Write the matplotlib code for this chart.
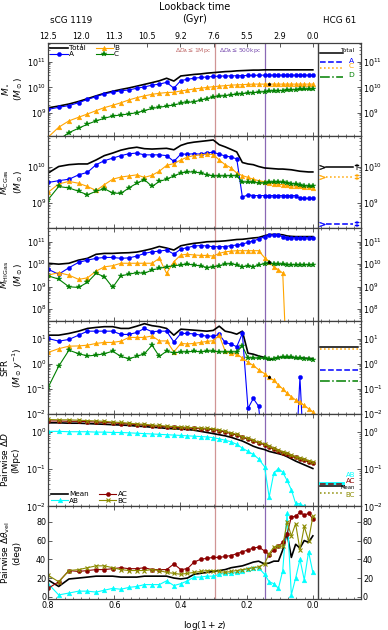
import numpy as np
import matplotlib
matplotlib.use('Agg')
import matplotlib.pyplot as plt
from matplotlib.ticker import FixedLocator, MultipleLocator, LogLocator, NullFormatter

nan = np.nan

# snapshot positions, log(1+z)
x = [0.800, 0.768, 0.737, 0.708, 0.681, 0.655, 0.630, 0.605, 0.580, 0.556,
     0.532, 0.509, 0.486, 0.464, 0.442, 0.420, 0.399, 0.379, 0.359, 0.339,
     0.320, 0.301, 0.283, 0.265, 0.247, 0.230, 0.213, 0.196, 0.180, 0.164,
     0.146, 0.132, 0.118, 0.104, 0.091, 0.078, 0.065, 0.052, 0.039, 0.026,
     0.013, 0.000]
marked_snap = 31   # snapshot drawn with a black dot on the B curve

lookback_pos = [0.8, 0.7, 0.6, 0.5, 0.4, 0.3, 0.2, 0.1, 0.0]
lookback_labels = ['12.5', '12.0', '11.3', '10.5', '9.2', '7.6', '5.5', '2.9', '0.0']

# log10 stellar mass
mstar_total = [9.20, 9.27, 9.35, 9.45, 9.56, 9.67, 9.77, 9.85, 9.92, 9.98,
               10.05, 10.12, 10.19, 10.26, 10.36, 10.25, 10.45, 10.48, 10.51, 10.53,
               10.56, 10.58, 10.60, 10.62, 10.63, 10.65, 10.66, 10.67, 10.68, 10.68,
               10.69, 10.69, 10.69, 10.69, 10.69, 10.69, 10.69, 10.69, 10.69, 10.69,
               10.69, 10.69]
mstar_a = [9.14, 9.22, 9.29, 9.40, 9.53, 9.64, 9.75, 9.81, 9.87, 9.90,
           9.97, 10.02, 10.09, 10.13, 10.20, 9.97, 10.27, 10.32, 10.36, 10.39,
           10.41, 10.43, 10.44, 10.45, 10.45, 10.46, 10.46, 10.47, 10.47, 10.48,
           10.48, 10.48, 10.48, 10.48, 10.48, 10.48, 10.48, 10.48, 10.48, 10.48,
           10.48, 10.48]
mstar_b = [8.05, 8.44, 8.69, 8.83, 8.96, 9.09, 9.21, 9.30, 9.40, 9.51,
           9.60, 9.67, 9.73, 9.77, 9.80, 9.81, 9.86, 9.90, 9.94, 9.97,
           10.00, 10.03, 10.05, 10.07, 10.09, 10.10, 10.11, 10.12, 10.13, 10.13,
           10.13, 10.13, 10.13, 10.13, 10.13, 10.13, 10.13, 10.13, 10.13, 10.13,
           10.13, 10.13]
mstar_c = [7.60, 7.95, 8.23, 8.40, 8.56, 8.69, 8.79, 8.88, 8.92, 8.96,
           9.01, 9.09, 9.18, 9.22, 9.27, 9.31, 9.38, 9.41, 9.44, 9.50,
           9.56, 9.62, 9.65, 9.68, 9.71, 9.73, 9.76, 9.78, 9.80, 9.81,
           9.83, 9.85, 9.86, 9.87, 9.88, 9.89, 9.90, 9.91, 9.92, 9.92,
           9.93, 9.93]

# log10 cold gas mass
cgas_total = [9.82, 10.00, 10.05, 10.07, 10.07, 10.18, 10.30, 10.37, 10.45, 10.50,
              10.53, 10.49, 10.48, 10.49, 10.50, 10.46, 10.58, 10.64, 10.67, 10.69,
              10.71, 10.73, 10.60, 10.54, 10.47, 10.40, 10.11, 10.07, 10.05, 10.00,
              9.96, 9.95, 9.94, 9.93, 9.93, 9.92, 9.91, 9.89, 9.87, 9.86,
              9.85, 9.85]
cgas_a = [9.56, 9.61, 9.65, 9.77, 9.84, 10.05, 10.16, 10.23, 10.30, 10.35,
          10.37, 10.32, 10.32, 10.32, 10.30, 10.14, 10.34, 10.34, 10.35, 10.34,
          10.38, 10.39, 10.34, 10.29, 10.26, 10.21, 9.16, 9.22, 9.20, 9.20,
          9.20, 9.20, 9.20, 9.20, 9.20, 9.20, 9.20, 9.20, 9.12, 9.12,
          9.12, 9.12]
cgas_b = [9.29, 9.52, 9.59, 9.54, 9.45, 9.34, 9.50, 9.65, 9.71, 9.74,
          9.77, 9.70, 9.76, 9.87, 10.03, 10.08, 10.18, 10.26, 10.30, 10.32,
          10.34, 10.33, 10.18, 10.05, 9.96, 9.82, 9.75, 9.70, 9.65, 9.61,
          9.58, 9.55, 9.53, 9.51, 9.50, 9.48, 9.47, 9.46, 9.45, 9.44,
          9.43, 9.42]
cgas_c = [9.09, 9.45, 9.41, 9.32, 9.22, 9.32, 9.39, 9.27, 9.26, 9.41,
          9.54, 9.64, 9.45, 9.59, 9.65, 9.74, 9.82, 9.85, 9.85, 9.82,
          9.77, 9.74, 9.74, 9.74, 9.75, 9.74, 9.57, 9.57, 9.56, 9.55,
          9.54, 9.56, 9.57, 9.57, 9.56, 9.55, 9.53, 9.51, 9.49, 9.47,
          9.46, 9.45]

# log10 HI gas mass
hi_total = [10.04, 10.00, 10.04, 10.18, 10.26, 10.44, 10.48, 10.48, 10.50, 10.51,
            10.54, 10.61, 10.69, 10.79, 10.72, 10.63, 10.82, 10.88, 10.93, 10.96,
            11.00, 11.01, 11.02, 11.04, 11.07, 11.10, 11.11, 11.14, 11.17, 11.19,
            11.27, 11.32, 11.33, 11.33, 11.31, 11.26, 11.24, 11.23, 11.23, 11.23,
            11.23, 11.23]
hi_a = [9.77, 9.55, 9.84, 10.08, 10.18, 10.26, 10.30, 10.30, 10.26, 10.28,
        10.36, 10.48, 10.55, 10.58, 10.63, 10.45, 10.67, 10.74, 10.81, 10.83,
        10.81, 10.78, 10.78, 10.78, 10.83, 10.85, 10.90, 10.97, 11.04, 11.12,
        11.22, 11.30, 11.30, 11.30, 11.22, 11.18, 11.18, 11.18, 11.18, 11.18,
        11.18, 11.18]
hi_b = [9.51, 9.62, 9.51, 9.32, 9.39, 9.69, 9.88, 9.93, 10.04, 10.04,
        10.04, 10.04, 10.04, 10.26, 9.59, 10.11, 10.41, 10.44, 10.41, 10.39,
        10.39, 10.36, 10.48, 10.55, 10.58, 10.60, 10.60, 10.60, 10.60, 10.60,
        10.29, 10.11, 9.88, 9.75, 9.60, 5.00, nan, nan, nan, nan,
        nan, nan]
hi_c = [9.48, 9.33, 8.99, 8.96, 9.19, 9.59, 9.44, 8.96, 9.48, 9.55,
        9.62, 9.59, 9.74, 9.81, 9.88, 9.93, 9.96, 10.00, 9.96, 9.92,
        9.85, 9.88, 9.93, 10.00, 10.02, 9.96, 9.88, 9.93, 9.88, 9.96,
        10.02, 10.06, 10.00, 10.00, 9.99, 9.98, 9.97, 9.97, 9.97, 9.97,
        9.97, 9.97]

# log10 SFR
sfr_total = [1.14, 1.14, 1.21, 1.30, 1.41, 1.45, 1.48, 1.48, 1.41, 1.41,
             1.50, 1.60, 1.52, 1.48, 1.41, 1.14, 1.38, 1.36, 1.34, 1.32,
             1.30, 1.33, 1.50, 1.30, 1.25, 1.18, 1.30, 0.42, 0.38, 0.31,
             0.25, 0.15, 0.20, 0.25, 0.26, 0.25, 0.25, 0.24, 0.23, 0.22,
             0.21, 0.20]
sfr_a = [1.01, 0.90, 0.97, 1.14, 1.30, 1.30, 1.30, 1.30, 1.17, 1.17,
         1.25, 1.41, 1.28, 1.30, 1.30, 0.87, 1.21, 1.21, 1.19, 1.14,
         1.10, 1.10, 1.17, 0.85, 0.78, 0.68, 1.21, -1.79, -1.39, -1.70,
         -4.0, -4.0, -4.0, -4.0, -4.0, -4.0, -4.0, -4.0, -0.54, -4.0,
         -4.0, -4.0]
sfr_b = [0.45, 0.60, 0.70, 0.71, 0.74, 0.81, 0.85, 0.85, 0.90, 1.05,
         1.05, 1.05, 1.11, 0.91, 0.91, 0.47, 0.81, 0.79, 0.81, 0.85,
         0.89, 0.92, 1.14, 0.50, 0.42, 0.38, 0.23, 0.06, -0.07, -0.24,
         -0.40, -0.54, -0.67, -0.85, -1.01, -1.18, -1.32, -1.45, -1.55, -1.67,
         -1.80, -1.92]
sfr_c = [-0.95, -0.10, 0.54, 0.40, 0.31, 0.34, 0.40, 0.50, 0.29, 0.20,
         0.29, 0.40, 0.74, 0.29, 0.50, 0.43, 0.47, 0.47, 0.50, 0.47,
         0.50, 0.50, 0.47, 0.47, 0.47, 0.47, 0.71, 0.23, 0.22, 0.22,
         0.21, 0.20, 0.20, 0.23, 0.25, 0.26, 0.25, 0.23, 0.22, 0.20,
         0.18, 0.16]

# log10 pairwise distance (Mpc)
dist_mean = [0.25, 0.25, 0.24, 0.24, 0.23, 0.22, 0.21, 0.20, 0.19, 0.18,
             0.16, 0.15, 0.13, 0.12, 0.10, 0.09, 0.08, 0.07, 0.05, 0.02,
             -0.01, -0.04, -0.07, -0.10, -0.14, -0.19, -0.24, -0.31, -0.38, -0.43,
             -0.47, -0.52, -0.55, -0.58, -0.61, -0.66, -0.72, -0.78, -0.83, -0.88,
             -0.93, -0.98]
dist_ab = [0.02, 0.02, 0.01, 0.01, 0.01, 0.00, 0.00, -0.01, -0.01, -0.02,
           -0.03, -0.04, -0.05, -0.06, -0.07, -0.08, -0.09, -0.10, -0.11, -0.12,
           -0.13, -0.15, -0.18, -0.22, -0.26, -0.33, -0.43, -0.52, -0.60, -0.72,
           -0.93, -1.75, -1.10, -0.98, -1.08, -1.30, -1.55, -1.92, -1.93, -2.00,
           -2.20, -2.30]
dist_ac = [0.30, 0.30, 0.29, 0.29, 0.28, 0.27, 0.26, 0.25, 0.23, 0.22,
           0.20, 0.19, 0.17, 0.16, 0.14, 0.13, 0.12, 0.11, 0.10, 0.09,
           0.08, 0.07, 0.04, 0.00, -0.04, -0.08, -0.14, -0.19, -0.24, -0.29,
           -0.34, -0.40, -0.46, -0.51, -0.55, -0.59, -0.64, -0.68, -0.72, -0.76,
           -0.80, -0.83]
dist_bc = [0.34, 0.33, 0.33, 0.32, 0.31, 0.30, 0.29, 0.27, 0.26, 0.24,
           0.22, 0.21, 0.19, 0.18, 0.16, 0.15, 0.14, 0.13, 0.12, 0.11,
           0.10, 0.09, 0.06, 0.02, -0.02, -0.06, -0.12, -0.17, -0.22, -0.27,
           -0.32, -0.38, -0.44, -0.49, -0.53, -0.57, -0.62, -0.66, -0.70, -0.73,
           -0.77, -0.80]

# pairwise velocity angle (deg)
vel_mean = [18, 11, 19, 20, 21, 22, 22, 22, 21, 21,
            21, 22, 22, 22, 22, 20, 19, 20, 24, 25,
            26, 27, 28, 29, 31, 32, 33, 35, 37, 38,
            35, 36, 38, 38, 50, 68, 42, 56, 52, 60,
            58, 65]
vel_ab = [14, 2, 4, 6, 6, 5, 7, 9, 8, 10,
          11, 13, 13, 13, 17, 12, 14, 17, 21, 21,
          22, 22, 24, 25, 25, 26, 28, 30, 31, 31,
          24, 16, 14, 9, 28, 89, 2, 20, 40, 18,
          48, 26]
vel_ac = [9, 16, 28, 27, 28, 29, 29, 30, 31, 30,
          30, 31, 29, 29, 29, 35, 29, 30, 37, 40,
          41, 42, 42, 43, 44, 46, 48, 50, 52, 53,
          49, 45, 50, 54, 58, 67, 85, 86, 90, 87,
          89, 83]
vel_bc = [23, 16, 28, 29, 31, 33, 33, 31, 29, 28,
          28, 28, 29, 28, 26, 25, 24, 25, 26, 27,
          28, 28, 27, 26, 27, 28, 29, 30, 31, 32,
          35, 46, 53, 54, 54, 80, 65, 78, 50, 75,
          60, 86]

# HCG 61 observed values (right hand strip)
obs_mstar = [11.34, 11.00, 10.78, 10.42]     # Total, A, C, D
obs_cgas = [10.00, 9.71, 8.42]               # Total, C, A
obs_sfr = [0.67, 0.60, -0.24, -0.70]         # Total, C, A, D
obs_dist = [-1.37, -1.41, -1.45, -1.63]      # AB, AC, Mean, BC

C_A, C_B, C_C = 'blue', 'orange', 'green'
C_AB, C_AC, C_BC = 'cyan', 'darkred', '#8b8b00'
FRAME = '#404040'


def lin(v):
    return np.power(10.0, np.array(v, dtype=float))


def style_axis(ax, log=True):
    ax.set_xlim(0.8, -0.145)
    ax.xaxis.set_major_locator(FixedLocator([0.8, 0.6, 0.4, 0.2, 0.0]))
    ax.xaxis.set_minor_locator(MultipleLocator(0.025))
    if log:
        ax.set_yscale('log')
        ax.yaxis.set_major_locator(LogLocator(base=10, numticks=15))
        ax.yaxis.set_minor_locator(LogLocator(base=10, subs=np.arange(2, 10), numticks=15))
        ax.yaxis.set_minor_formatter(NullFormatter())
    ax.tick_params(which='both', direction='in', top=True, right=True,
                   labelright=True, labelsize=5.8, pad=1.5, color=FRAME)
    ax.tick_params(which='major', length=3, width=0.6)
    ax.tick_params(which='minor', length=1.5, width=0.5)
    ax.tick_params(axis='x', labelbottom=False)
    for s in ax.spines.values():
        s.set_linewidth(0.9)
        s.set_color(FRAME)
    ax.axvline(0.295, color='#d09595', lw=0.9, zorder=0)
    ax.axvline(0.145, color='#8a68b5', lw=0.9, zorder=0)
    ax.axvline(-0.016, color=FRAME, lw=1.0, zorder=1)


def group_lines(ax, total, a, b, c, ms=3):
    ax.plot(x, lin(total), color='k', lw=1.2, label='Total')
    ax.plot(x, lin(a), color=C_A, lw=0.8, marker='o', ms=ms, mew=0.3, label='A')
    ax.plot(x, lin(b), color=C_B, lw=0.8, marker='^', ms=ms + 0.4, mew=0.3, label='B')
    ax.plot(x, lin(c), color=C_C, lw=0.8, marker='*', ms=ms + 0.8, mew=0.3, label='C')


def obs_line(ax, x0, x1, val, color, ls, lw=1.1):
    ax.plot([x0, x1], [10 ** val, 10 ** val], color=color, ls=ls, lw=lw)


def main():
    fig = plt.figure(figsize=(3.88, 6.30), dpi=100)
    gs = fig.add_gridspec(6, 1, left=0.124, right=0.930, top=0.932,
                          bottom=0.049, hspace=0)
    axes = [fig.add_subplot(gs[i]) for i in range(6)]
    for ax in axes[:5]:
        style_axis(ax)
    style_axis(axes[5], log=False)

    # stellar mass
    ax = axes[0]
    group_lines(ax, mstar_total, mstar_a, mstar_b, mstar_c)
    ax.plot(x[marked_snap], 10 ** mstar_b[marked_snap], 'k.', ms=2.5)
    ax.set_ylim(1.3e8, 5.6e11)
    ax.legend(loc='upper left', ncol=2, frameon=False, fontsize=5.2,
              handlelength=2.4, handletextpad=0.15, labelspacing=0.05,
              columnspacing=1.4, borderaxespad=0.2, borderpad=0.1)
    ax.text(0.305, 2.9e11, r'$\Delta D_{\rm A} \leq 1$Mpc', color='#c06a6a',
            fontsize=4.3, ha='right', va='center')
    ax.text(0.155, 2.9e11, r'$\Delta D_{\rm A} \leq 500$kpc', color='#7a4fb0',
            fontsize=4.3, ha='right', va='center')
    for val, c, ls, name, fs, dy in zip(obs_mstar, ['k', C_A, C_B, C_C],
                                        ['-', '--', ':', '-.'],
                                        ['Total', 'A', 'C', 'D'],
                                        [4.3, 5.4, 5.4, 5.4],
                                        [0.09, 0.03, 0.07, 0.07]):
        obs_line(ax, -0.023, -0.092, val, c, ls)
        ax.text(-0.124, 10 ** (val + dy), name, color=c, fontsize=fs,
                ha='right', va='center')
    ax.set_ylabel(r'$M_\star$' + '\n' + r'$(M_\odot)$', fontsize=6.5, linespacing=1.1)

    top = ax.twiny()
    top.set_xlim(ax.get_xlim())
    top.set_xticks(lookback_pos)
    top.set_xticklabels(lookback_labels)
    top.tick_params(direction='in', length=3, width=0.6, labelsize=5.8, pad=1.5, color=FRAME)
    for s in top.spines.values():
        s.set_visible(False)

    # cold gas
    ax = axes[1]
    group_lines(ax, cgas_total, cgas_a, cgas_b, cgas_c)
    ax.set_ylim(2.0e8, 7.1e10)
    for val, c, ls, end in zip(obs_cgas, ['k', C_B, C_A], ['-', ':', '--'],
                               [r'$\dagger$', r'$\ddagger$', r'$\ddagger$']):
        obs_line(ax, -0.041, -0.122, val, c, ls)
        ax.plot(-0.029, 10 ** val, marker='$>$', color=c, ms=4, mew=0.3)
        ax.plot(-0.134, 10 ** val, marker=end, color=c, ms=4.5, mew=0.3)
    ax.set_ylabel(r'$M_{\rm CGas}$' + '\n' + r'$(M_\odot)$', fontsize=6.5, linespacing=1.1)

    # HI gas
    ax = axes[2]
    group_lines(ax, hi_total, hi_a, hi_b, hi_c)
    ax.plot(x[marked_snap], 10 ** hi_b[marked_snap], 'k.', ms=2.5)
    ax.set_ylim(2.9e7, 4.0e11)
    ax.set_ylabel(r'$M_{\rm HIGas}$' + '\n' + r'$(M_\odot)$', fontsize=6.5, linespacing=1.1)

    # SFR
    ax = axes[3]
    group_lines(ax, sfr_total, sfr_a, sfr_b, sfr_c)
    ax.plot(x[marked_snap], 10 ** sfr_b[marked_snap], 'k.', ms=2.5)
    ax.set_ylim(1e-2, 51)
    for val, c, ls in zip(obs_sfr, ['k', C_B, C_A, C_C], ['-', ':', '--', '-.']):
        obs_line(ax, -0.023, -0.137, val, c, ls)
    ax.set_ylabel('SFR\n' + r'$(M_\odot\, y^{-1})$', fontsize=6.5, linespacing=1.1)

    # pairwise distance
    ax = axes[4]
    ax.plot(x, lin(dist_mean), color='k', lw=1.2, label='Mean')
    ax.plot(x, lin(dist_ab), color=C_AB, lw=0.8, marker='^', ms=3.4, mew=0.3, label='AB')
    ax.plot(x, lin(dist_ac), color=C_AC, lw=0.8, marker='o', ms=3, mew=0.3, label='AC')
    ax.plot(x, lin(dist_bc), color=C_BC, lw=0.8, marker='x', ms=3, mew=0.8, label='BC')
    ax.set_ylim(1e-2, 3.13)
    ax.legend(loc='lower left', ncol=2, frameon=False, fontsize=5.2,
              handlelength=2.4, handletextpad=0.15, labelspacing=0.05,
              columnspacing=1.4, borderaxespad=0.3, borderpad=0.1)
    for val, c, ls, lw in zip(obs_dist, [C_AB, C_AC, 'k', C_BC],
                              ['-', '--', '-', ':'], [2.0, 1.1, 1.1, 1.1]):
        obs_line(ax, -0.023, -0.092, val, c, ls, lw)
    for name, c, yv, fs in [('AB', C_AB, -1.15, 5.0), ('AC', C_AC, -1.32, 5.0),
                            ('Mean', 'k', -1.50, 3.8), ('BC', C_BC, -1.70, 5.0)]:
        ax.text(-0.128, 10 ** yv, name, color=c, fontsize=fs, ha='right', va='center')
    ax.set_ylabel('Pairwise $\\Delta D$\n(Mpc)', fontsize=6.5, linespacing=1.1)

    # pairwise velocity angle
    ax = axes[5]
    ax.plot(x, vel_mean, color='k', lw=1.2)
    ax.plot(x, vel_ab, color=C_AB, lw=0.8, marker='^', ms=3.4, mew=0.3)
    ax.plot(x, vel_ac, color=C_AC, lw=0.8, marker='o', ms=3, mew=0.3)
    ax.plot(x, vel_bc, color=C_BC, lw=0.8, marker='x', ms=3, mew=0.8)
    ax.set_ylim(-2.5, 96.4)
    ax.yaxis.set_major_locator(MultipleLocator(20))
    ax.tick_params(axis='x', labelbottom=True)
    ax.set_xticklabels(['0.8', '0.6', '0.4', '0.2', '0.0'])
    ax.set_xlabel(r'$\log(1+z)$', fontsize=6.5, labelpad=6)
    ax.set_ylabel('Pairwise $\\Delta\\theta_{\\rm vel}$\n(deg)', fontsize=6.5, linespacing=1.1)

    label_x = [-0.075, -0.075, -0.075, -0.075, -0.09, -0.085]
    for ax, lx in zip(axes, label_x):
        ax.yaxis.set_label_coords(lx, 0.5)

    fig.text(0.502, 0.979, 'Lookback time\n(Gyr)', ha='center', va='center',
             fontsize=7, linespacing=1.2)
    fig.text(0.183, 0.967, 'sCG 1119', ha='center', va='center', fontsize=6.3)
    fig.text(0.876, 0.967, 'HCG 61', ha='center', va='center', fontsize=6.3)

    fig.savefig('out.png', dpi=100)


if __name__ == '__main__':
    main()
